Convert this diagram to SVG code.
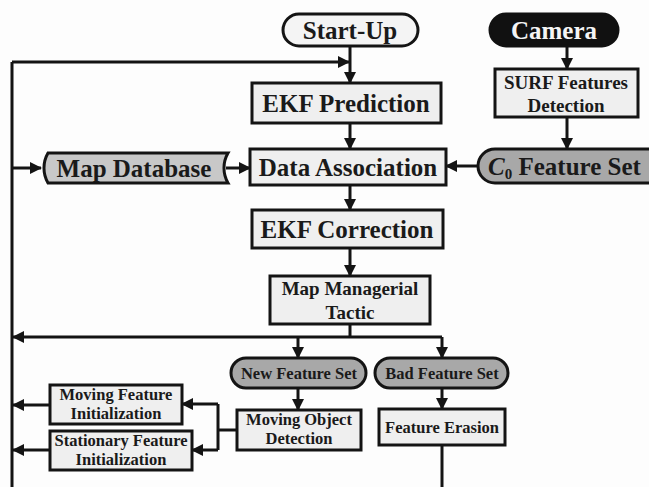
<svg xmlns="http://www.w3.org/2000/svg" width="649" height="487" viewBox="0 0 649 487">
<style>
text{font-family:"Liberation Serif","Times New Roman",serif;font-weight:bold;fill:#1a1a1a;text-anchor:middle}
.big{font-size:25px}
.med{font-size:19px}
.sm{font-size:16.5px}
.box{fill:#efefef;stroke:#141414;stroke-width:3}
.pill{fill:#a8a8a8;stroke:#141414;stroke-width:3}
.ln{fill:none;stroke:#141414;stroke-width:3}
</style>
<defs>
<marker id="ah" markerUnits="userSpaceOnUse" markerWidth="12" markerHeight="12" viewBox="0 0 12 12" refX="11" refY="6" orient="auto">
<path d="M0,0 L12,6 L0,12 Z" fill="#141414"/>
</marker>
</defs>
<rect width="649" height="487" fill="#fdfdfd"/>
<g id="connectors">
<path class="ln" d="M12,62 V487"/>
<path class="ln" d="M12,62 H349" marker-end="url(#ah)"/>
<path class="ln" d="M350,46 V83" marker-end="url(#ah)"/>
<path class="ln" d="M350,123 V149" marker-end="url(#ah)"/>
<path class="ln" d="M350,185 V210" marker-end="url(#ah)"/>
<path class="ln" d="M350,248 V276" marker-end="url(#ah)"/>
<path class="ln" d="M350,324 V337"/>
<path class="ln" d="M442,337 H13" marker-end="url(#ah)"/>
<path class="ln" d="M298,337 V358" marker-end="url(#ah)"/>
<path class="ln" d="M442,337 V358" marker-end="url(#ah)"/>
<path class="ln" d="M298,388 V410" marker-end="url(#ah)"/>
<path class="ln" d="M442,388 V409" marker-end="url(#ah)"/>
<path class="ln" d="M442,445 V487"/>
<path class="ln" d="M237,430 H218"/>
<path class="ln" d="M218,404 V450"/>
<path class="ln" d="M218,404 H182" marker-end="url(#ah)"/>
<path class="ln" d="M218,450 H192" marker-end="url(#ah)"/>
<path class="ln" d="M50,405 H13" marker-end="url(#ah)"/>
<path class="ln" d="M50,450 H13" marker-end="url(#ah)"/>
<path class="ln" d="M12,168 H41" marker-end="url(#ah)"/>
<path class="ln" d="M226,168 H250" marker-end="url(#ah)"/>
<path class="ln" d="M478,166 H446" marker-end="url(#ah)"/>
<path class="ln" d="M567,46 V69" marker-end="url(#ah)"/>
<path class="ln" d="M567,117 V149" marker-end="url(#ah)"/>
</g>
<g id="startup">
<rect x="283" y="14" width="135" height="32" rx="16" fill="#f4f4f4" stroke="#141414" stroke-width="3"/>
<text class="big" x="350" y="39">Start-Up</text>
</g>
<g id="camera">
<rect x="490" y="14" width="128" height="32" rx="16" fill="#111" stroke="#111" stroke-width="3"/>
<text class="big" x="554" y="39" style="fill:#f5f5f5">Camera</text>
</g>
<g id="ekf-prediction">
<rect class="box" x="252" y="83" width="189" height="40"/>
<text class="big" x="346" y="112">EKF Prediction</text>
</g>
<g id="data-association">
<rect class="box" x="250" y="149" width="196" height="36"/>
<text class="big" x="348" y="176">Data Association</text>
</g>
<g id="ekf-correction">
<rect class="box" x="252" y="210" width="191" height="38"/>
<text class="big" x="347" y="238">EKF Correction</text>
</g>
<g id="map-database">
<path d="M48,153 H228 A30,30 0 0 0 228,183 H48 A30,30 0 0 1 48,153 Z" fill="#c8c8c8" stroke="#141414" stroke-width="3"/>
<text class="big" x="134" y="177">Map Database</text>
</g>
<g id="surf">
<rect class="box" x="495" y="69" width="143" height="48"/>
<text class="med" x="566" y="89">SURF Features</text>
<text class="med" x="566" y="112">Detection</text>
</g>
<g id="c0-feature-set">
<rect class="pill" x="478" y="149" width="190" height="34" rx="17"/>
<text class="big" x="488" y="175" style="text-anchor:start"><tspan font-style="italic">C</tspan><tspan font-size="15" dy="4">0</tspan><tspan dy="-4"> Feature Set</tspan></text>
</g>
<g id="map-managerial">
<rect class="box" x="270" y="276" width="160" height="48"/>
<text class="med" x="350" y="295">Map Managerial</text>
<text class="med" x="350" y="319">Tactic</text>
</g>
<g id="new-feature-set">
<rect class="pill" x="231" y="358" width="135" height="30" rx="15"/>
<text class="sm" x="299" y="379">New Feature Set</text>
</g>
<g id="bad-feature-set">
<rect class="pill" x="375" y="358" width="133" height="30" rx="15"/>
<text class="sm" x="442" y="379">Bad Feature Set</text>
</g>
<g id="moving-object-detection">
<rect class="box" x="237" y="410" width="124" height="40"/>
<text class="sm" x="299" y="425">Moving Object</text>
<text class="sm" x="299" y="444">Detection</text>
</g>
<g id="feature-erasion">
<rect class="box" x="379" y="409" width="126" height="36"/>
<text class="sm" x="442" y="433">Feature Erasion</text>
</g>
<g id="moving-feature-init">
<rect class="box" x="50" y="385" width="132" height="39"/>
<text class="sm" x="116" y="400">Moving Feature</text>
<text class="sm" x="116" y="419">Initialization</text>
</g>
<g id="stationary-feature-init">
<rect class="box" x="50" y="431" width="142" height="39"/>
<text class="sm" x="121" y="446">Stationary Feature</text>
<text class="sm" x="121" y="465">Initialization</text>
</g>
</svg>
